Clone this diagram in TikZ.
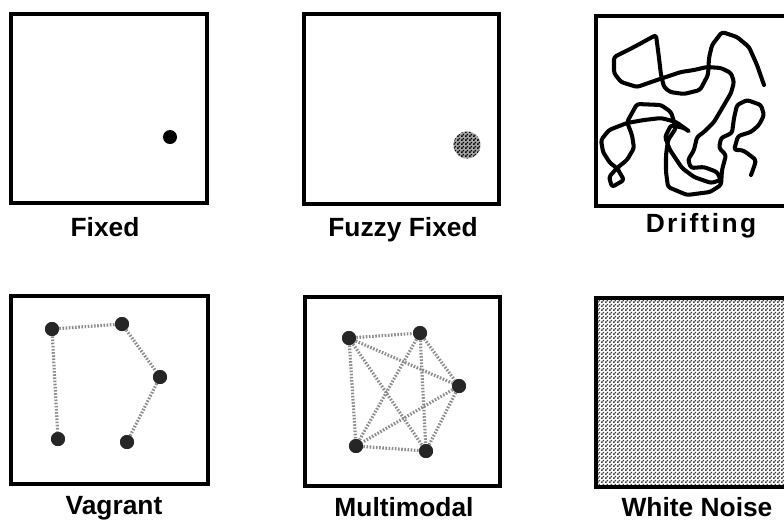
\documentclass[tikz,border=0pt]{standalone}
\usepackage{fontspec}
\setmainfont{Liberation Sans}
\usetikzlibrary{patterns}

% fine checkerboard stipple, like an old halftone screen
\pgfdeclarepatternformonly{stipple}{\pgfpointorigin}{\pgfqpoint{2pt}{2pt}}{\pgfqpoint{2pt}{2pt}}{%
	\pgfpathrectangle{\pgfpointorigin}{\pgfqpoint{1pt}{1pt}}%
	\pgfpathrectangle{\pgfqpoint{1pt}{1pt}}{\pgfqpoint{1pt}{1pt}}%
	\pgfusepath{fill}}

\tikzset{
	frame/.style={line width=2.1pt},
	caption/.style={anchor=base, font=\fontsize{15}{18}\selectfont\bfseries},
	spot/.style={circle, fill=black!85, inner sep=0pt, minimum size=0.28cm},
	link/.style={draw=black!45, line width=1.8pt, dash pattern=on 0.9pt off 0.9pt},
}

\begin{document}
\begin{tikzpicture}[x=0.02cm, y=-0.02cm] % one unit = one pixel of the 784x522 page, y downwards
	\useasboundingbox (0,0) rectangle (784,522);
	\clip (0,0) rectangle (784,522);
	
	% the six frames
	\draw[frame] (11,14) rectangle (207,203);
	\draw[frame] (304,14) rectangle (499,204);
	\draw[frame] (596,16) rectangle (800,206);
	\draw[frame] (11,296) rectangle (208,484);
	\draw[frame] (305,297) rectangle (500,486);
	\fill[pattern=stipple, pattern color=black!75] (596,298) rectangle (800,487);
	\draw[frame] (596,298) rectangle (800,487);
	
	% fixed and fuzzy fixed
	\fill[black] (170,137) circle (7);
	\fill[black!35] (467,145) circle (13.5);
	\fill[pattern=stipple, pattern color=black] (467,145) circle (13.5);
	
	% drifting
	\draw[line width=2.3pt, line join=round, line cap=round, rounded corners=1.5pt]
		(764,85) -- (757,65) -- (749,47) -- (737,37) -- (722,32) -- (712,45) -- (709,58)
		-- (708,75) -- (700,90) -- (684,94) -- (670,92) -- (664,87) -- (661,75) -- (659,58)
		-- (656,35) -- (634,47) -- (614,57) -- (614,73) -- (621,82) -- (637,87) -- (657,80)
		-- (681,72) -- (694,70) -- (707,67) -- (721,68) -- (731,73) -- (734,82) -- (731,93)
		-- (724,105) -- (714,122) -- (704,132) -- (697,137) -- (694,150) -- (688,160)
		-- (691,168) -- (704,167) -- (717,172) -- (721,180) -- (711,183) -- (694,177)
		-- (682,168) -- (670,150) -- (665,137) -- (671,125) -- (684,128) -- (690,132)
		-- (676,122) -- (661,118) -- (644,120) -- (627,123) -- (609,130) -- (601,140)
		-- (603,152) -- (610,163) -- (617,168) -- (609,177) -- (612,187) -- (624,180)
		-- (617,168) -- (627,160) -- (634,148) -- (632,135) -- (627,122) -- (637,104)
		-- (661,105) -- (671,112) -- (676,128) -- (668,140) -- (666,155) -- (666,172)
		-- (668,187) -- (687,195) -- (710,192) -- (721,185) -- (722,170) -- (726,155)
		-- (719,148) -- (721,138) -- (732,133) -- (734,118) -- (737,105) -- (747,100)
		-- (761,105) -- (764,115) -- (759,125) -- (751,132) -- (738,136) -- (734,150)
		-- (742,150) -- (747,153) -- (756,160) -- (754,167) -- (751,175);
	
	% vagrant
	\foreach \n/\x/\y in {va/52/329, vb/122/324, vc/160/377, vd/58/439, ve/127/442}
		\node[spot] (\n) at (\x,\y) {};
	\foreach \s/\t in {va/vb, vb/vc, vc/ve, va/vd}
		\draw[link] (\s) -- (\t);
	\foreach \n in {va,vb,vc,vd,ve}
		\node[spot] at (\n) {};
	
	% multimodal, every mode joined to every other
	\foreach \n/\x/\y in {ma/349/338, mb/420/333, mc/459/386, md/356/446, me/426/451}
		\node[spot] (\n) at (\x,\y) {};
	\foreach \s/\t in {ma/mb, ma/mc, ma/md, ma/me, mb/mc, mb/md, mb/me, mc/md, mc/me, md/me}
		\draw[link] (\s) -- (\t);
	\foreach \n in {ma,mb,mc,md,me}
		\node[spot] at (\n) {};
	
	% captions
	\node[caption] (fixed) at (105,236) {Fixed};
	\node[caption] (fuzzy) at (403,236) {Fuzzy Fixed};
	\node[caption] (drift) at (701,232) {\addfontfeature{LetterSpace=9}Drifting};
	\node[caption] (vagrant) at (114,514) {Vagrant};
	\node[caption] (multi) at (404,516) {Multimodal};
	\node[caption] (noise) at (697,516) {White Noise};
\end{tikzpicture}
\end{document}
